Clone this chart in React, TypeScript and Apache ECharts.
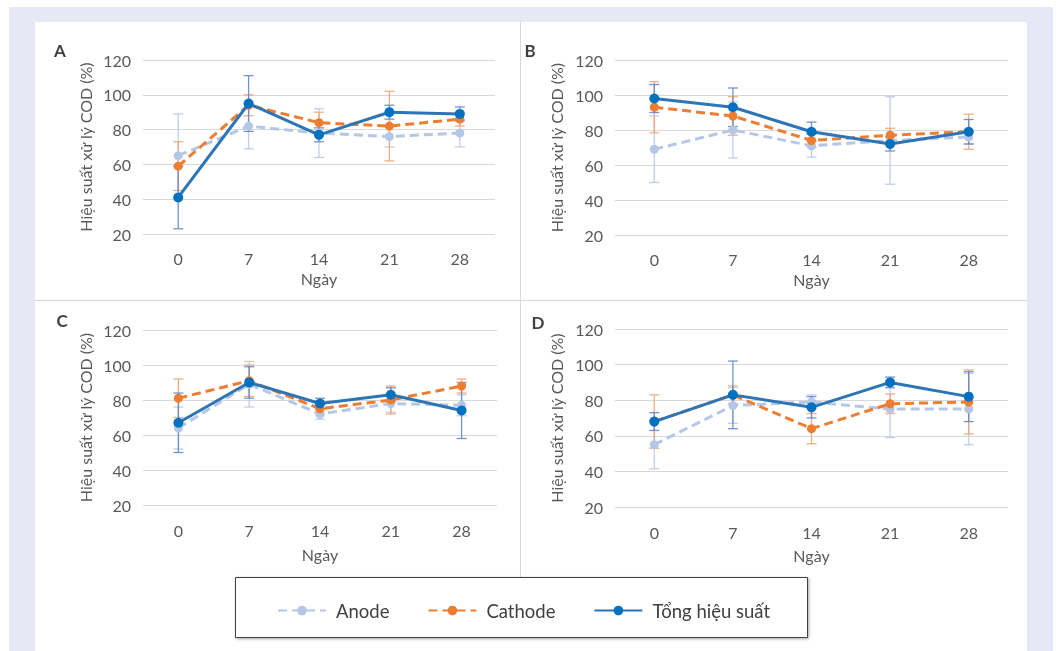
import React, { useEffect, useRef } from "react";
import * as echarts from "echarts";

const categories = ["0", "7", "14", "21", "28"];
const yTicks = [20, 40, 60, 80, 100, 120];
const seriesNames = ["Anode", "Cathode", "Tổng hiệu suất"];
const panelLabels = ["A", "B", "C", "D"];

const anodeA = [65, 82, 78, 76, 78];
const anodeAErr = [24, 13, 14, 6, 8];
const cathodeA = [59, 94, 84, 82, 86];
const cathodeAErr = [14, 6, 6, 20, 4];
const totalA = [41, 95, 77, 90, 89];
const totalAErr = [18, 16, 4, 4, 4];

const anodeB = [69, 80, 71, 74, 76];
const anodeBErr = [19, 16, 6.5, 25, 4];
const cathodeB = [93, 88, 74, 77, 79];
const cathodeBErr = [14.6, 11, 4, 4, 10];
const totalB = [98, 93, 79, 72, 79];
const totalBErr = [8, 11, 5.5, 4, 7];

const anodeC = [64, 89, 72, 78, 77];
const anodeCErr = [12, 13, 3, 5, 6];
const cathodeC = [81, 91, 75, 80, 88];
const cathodeCErr = [11, 9, 3, 8, 4];
const totalC = [67, 90, 78, 83, 74];
const totalCErr = [17, 9, 3, 4, 16];

const anodeD = [55, 77, 79, 75, 75];
const anodeDErr = [13.5, 10, 4, 16, 20];
const cathodeD = [68, 83, 64, 78, 79];
const cathodeDErr = [15, 5, 8.5, 5.5, 18];
const totalD = [68, 83, 76, 90, 82];
const totalDErr = [5, 19, 6, 3, 14];

const panels = [
  { a: anodeA, ae: anodeAErr, c: cathodeA, ce: cathodeAErr, t: totalA, te: totalAErr },
  { a: anodeB, ae: anodeBErr, c: cathodeB, ce: cathodeBErr, t: totalB, te: totalBErr },
  { a: anodeC, ae: anodeCErr, c: cathodeC, ce: cathodeCErr, t: totalC, te: totalCErr },
  { a: anodeD, ae: anodeDErr, c: cathodeD, ce: cathodeDErr, t: totalD, te: totalDErr },
];

const FONT = "Lato, 'Open Sans', sans-serif";
const COL_ANODE = "#b4c7e7";
const COL_CATH = "#ed7d31";
const COL_TOTAL = "#2e75b6";
const COL_TOTAL_MK = "#0070c0";

const grids = [
  { left: 143, top: 60, width: 352, height: 174, labelMargin: 16, nameGap: 36, nameX: 60 },
  { left: 615, top: 60, width: 393, height: 175, labelMargin: 16, nameGap: 36, nameX: 61 },
  { left: 143, top: 330, width: 354, height: 175, labelMargin: 17, nameGap: 41, nameX: 60 },
  { left: 615, top: 329, width: 393, height: 178, labelMargin: 17, nameGap: 40, nameX: 61 },
];

const labelPos = [
  [60, 50],
  [530, 50],
  [62, 320],
  [538, 322],
];

function errSeries(gi: number, vals: number[], errs: number[], color: string, z: number) {
  return {
    type: "custom",
    name: "err" + gi + color,
    xAxisIndex: gi,
    yAxisIndex: gi,
    z,
    silent: true,
    encode: { x: 0, y: [1, 2] },
    data: vals.map((v, i) => [i, v - errs[i], v + errs[i]]),
    renderItem: (params: any, api: any) => {
      const lo = api.coord([api.value(0), api.value(1)]);
      const hi = api.coord([api.value(0), api.value(2)]);
      const cw = 5;
      const style = { stroke: color, lineWidth: 1.3, opacity: 0.85 };
      return {
        type: "group",
        children: [
          { type: "line", shape: { x1: lo[0], y1: lo[1], x2: hi[0], y2: hi[1] }, style },
          { type: "line", shape: { x1: lo[0] - cw, y1: lo[1], x2: lo[0] + cw, y2: lo[1] }, style },
          { type: "line", shape: { x1: hi[0] - cw, y1: hi[1], x2: hi[0] + cw, y2: hi[1] }, style },
        ],
      };
    },
  };
}

export default function App() {
  const ref = useRef<HTMLDivElement>(null);
  useEffect(() => {
    if (!ref.current) return;
    const chart = echarts.init(ref.current, null, { renderer: "svg" });
    const series: any[] = [];
    panels.forEach((p, gi) => {
      series.push(errSeries(gi, p.a, p.ae, COL_ANODE, 1));
      series.push(errSeries(gi, p.c, p.ce, "#f0a070", 1));
      series.push(errSeries(gi, p.t, p.te, "#5b84c8", 1));
      series.push({
        type: "line",
        name: seriesNames[0],
        xAxisIndex: gi,
        yAxisIndex: gi,
        data: p.a,
        z: 3,
        symbol: "circle",
        symbolSize: 9,
        lineStyle: { color: COL_ANODE, width: 3, type: [9, 5] },
        itemStyle: { color: COL_ANODE },
      });
      series.push({
        type: "line",
        name: seriesNames[1],
        xAxisIndex: gi,
        yAxisIndex: gi,
        data: p.c,
        z: 4,
        symbol: "circle",
        symbolSize: 9,
        lineStyle: { color: COL_CATH, width: 3, type: [9, 5] },
        itemStyle: { color: COL_CATH },
      });
      series.push({
        type: "line",
        name: seriesNames[2],
        xAxisIndex: gi,
        yAxisIndex: gi,
        data: p.t,
        z: 5,
        symbol: "circle",
        symbolSize: 10,
        lineStyle: { color: COL_TOTAL, width: 3 },
        itemStyle: { color: COL_TOTAL_MK },
      });
    });

    const graphic: any[] = [
      { type: "rect", z: -100, shape: { x: 9, y: 7, width: 1044, height: 644 }, style: { fill: "#e6e9f5" } },
      { type: "rect", z: -99, shape: { x: 35, y: 22, width: 992, height: 629 }, style: { fill: "#ffffff" } },
      { type: "line", z: -98, shape: { x1: 520.5, y1: 22, x2: 520.5, y2: 577 }, style: { stroke: "#d9d9d9", lineWidth: 1 } },
      { type: "line", z: -98, shape: { x1: 35, y1: 300.5, x2: 1027, y2: 300.5 }, style: { stroke: "#d9d9d9", lineWidth: 1 } },
      {
        type: "rect",
        z: -97,
        shape: { x: 235.5, y: 577.5, width: 572, height: 60 },
        style: { fill: "#ffffff", stroke: "#404040", lineWidth: 1, shadowBlur: 3, shadowColor: "rgba(0,0,0,0.35)", shadowOffsetX: 1, shadowOffsetY: 1 },
      },
    ];
    panelLabels.forEach((t, i) => {
      graphic.push({
        type: "text",
        x: labelPos[i][0],
        y: labelPos[i][1],
        style: { text: t, fill: "#404040", font: "bold 17px " + FONT, align: "center", verticalAlign: "middle" },
      });
    });

    chart.setOption({
      animation: false,
      textStyle: { fontFamily: FONT },
      graphic,
      legend: {
        data: seriesNames,
        left: 272,
        top: 596,
        itemWidth: 48,
        itemHeight: 12,
        itemGap: 38,
        selectedMode: false,
        textStyle: { color: "#404040", fontSize: 18.5, fontFamily: FONT, padding: [0, 0, 0, 5] },
      },
      grid: grids.map((g) => ({ left: g.left, top: g.top, width: g.width, height: g.height })),
      xAxis: grids.map((g, i) => ({
        type: "category",
        gridIndex: i,
        data: categories,
        boundaryGap: true,
        name: "Ngày",
        nameLocation: "middle",
        nameGap: g.nameGap,
        nameTextStyle: { color: "#595959", fontSize: 16, fontFamily: FONT },
        axisLine: { show: false },
        axisTick: { show: false },
        axisLabel: { color: "#595959", fontSize: 16, margin: g.labelMargin, fontFamily: FONT },
      })),
      yAxis: grids.map((g, i) => ({
        type: "value",
        gridIndex: i,
        min: yTicks[0],
        max: yTicks[yTicks.length - 1],
        interval: 20,
        name: "Hiệu suất xử lý COD (%)",
        nameLocation: "middle",
        nameGap: g.nameX - 10,
        nameTextStyle: { color: "#595959", fontSize: 16, fontFamily: FONT },
        axisLine: { show: false },
        axisTick: { show: false },
        axisLabel: { color: "#595959", fontSize: 16, margin: 12, fontFamily: FONT },
        splitLine: { lineStyle: { color: "#d9d9d9", width: 1 } },
      })),
      series,
    });
    return () => chart.dispose();
  }, []);
  return (
    <div
      ref={ref}
      style={{ position: "fixed", left: 0, top: 0, width: 1057, height: 651 }}
    />
  );
}
